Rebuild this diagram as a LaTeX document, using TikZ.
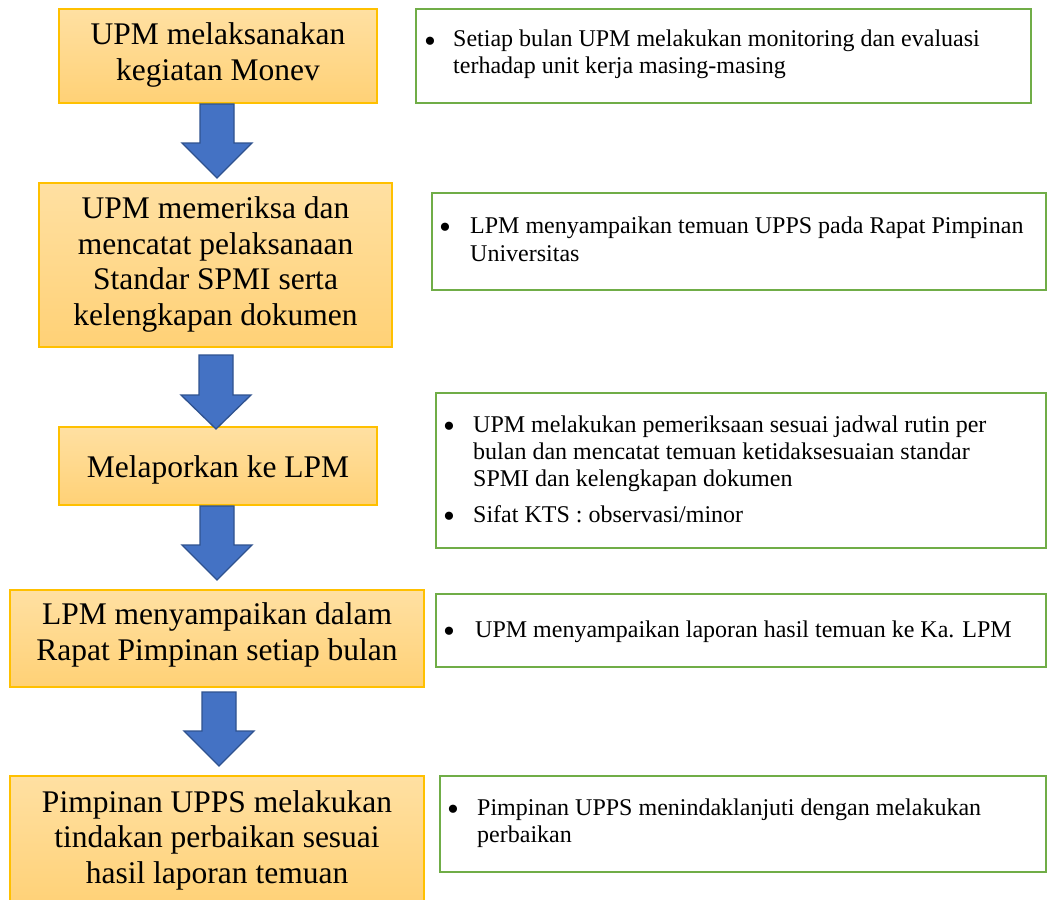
\documentclass[tikz,border=0pt]{standalone}
\usepackage{fontspec}
\setmainfont{Liberation Serif}
\definecolor{goldline}{HTML}{FFC000}
\definecolor{otop}{HTML}{FFE0A2}
\definecolor{obot}{HTML}{FFD176}
\definecolor{ablue}{HTML}{4472C4}
\definecolor{ablueline}{HTML}{2F528F}
\definecolor{ggreen}{HTML}{70AD47}
\newcommand\blkarrow[4]{%
  \draw[barrow] ({#1-17},#2) -- ({#1+17},#2) -- ({#1+17},#3) -- ({#1+35},#3) -- (#1,#4) -- ({#1-35},#3) -- ({#1-17},#3) -- cycle;}
\begin{document}
\begin{tikzpicture}[x=1pt,y=-1pt,
  obox/.style={draw=goldline, line width=1.2pt, top color=otop, bottom color=obot, inner sep=0pt},
  gbox/.style={draw=ggreen, line width=2.4pt, fill=white, inner sep=0pt},
  otext/.style={font=\fontsize{31.5}{35.5}\selectfont, align=center, inner sep=0pt, anchor=base},
  gtext/.style={font=\fontsize{24}{27}\selectfont, align=left, inner sep=0pt, anchor=base west},
  gbul/.style={font=\fontsize{34}{34}\selectfont, inner sep=0pt, anchor=center},
  barrow/.style={fill=ablue, draw=ablueline, line width=1.3pt, line join=miter}]
\useasboundingbox (0,0) rectangle (1048,899);
\clip (0,0) rectangle (1048,899);
\fill[white] (0,0) rectangle (1048,899);
% orange boxes
\node[obox, minimum width=318pt, minimum height=94pt] (b1) at (218,56) {};
\node[obox, minimum width=353pt, minimum height=164pt] (b2) at (215.5,265) {};
\node[obox, minimum width=318pt, minimum height=78pt] (b3) at (218,466) {};
\node[obox, minimum width=414pt, minimum height=97pt] (b4) at (217,638.5) {};
\node[obox, minimum width=414pt, minimum height=132pt] (b5) at (217,842) {};
% (multi-line nodes: base = baseline of the last line)
\node[otext] (t1) at (218,80) {UPM melaksanakan\\kegiatan Monev};
\node[otext] (t2) at (215.5,325) {UPM memeriksa dan\\mencatat pelaksanaan\\Standar SPMI serta\\kelengkapan dokumen};
\node[otext] (t3) at (218,477) {Melaporkan ke LPM};
\node[otext] (t4) at (217,660) {LPM menyampaikan dalam\\Rapat Pimpinan setiap bulan};
\node[otext] (t5) at (217,883) {Pimpinan UPPS melakukan\\tindakan perbaikan sesuai\\hasil laporan temuan};
% arrows
\blkarrow{217}{104}{143}{178}
\blkarrow{216}{355}{395}{429}
\blkarrow{217}{506}{545}{580}
\blkarrow{219}{692}{731}{766}
% green boxes
\node[gbox, minimum width=615pt, minimum height=94pt] (g1) at (723.5,56) {};
\node[gbox, minimum width=614pt, minimum height=97pt] (g2) at (739,241.5) {};
\node[gbox, minimum width=610pt, minimum height=155pt] (g3) at (741,470.5) {};
\node[gbox, minimum width=610pt, minimum height=73pt] (g4) at (741,630.5) {};
\node[gbox, minimum width=606pt, minimum height=96pt] (g5) at (743,824) {};
\node[gbul] (p1) at (430,45) {•};
\node[gtext, font=\fontsize{24}{26}\selectfont] (s1) at (453,73) {Setiap bulan UPM melakukan monitoring dan evaluasi\\terhadap unit kerja masing-masing};
\node[gbul] (p2) at (445,231) {•};
\node[gtext, font=\fontsize{24}{28.5}\selectfont] (s2) at (470,261.5) {LPM menyampaikan temuan UPPS pada Rapat Pimpinan\\Universitas};
\node[gbul] (p3) at (449,430) {•};
\node[gtext] (s3) at (473,486) {UPM melakukan pemeriksaan sesuai jadwal rutin per\\bulan dan mencatat temuan ketidaksesuaian standar\\SPMI dan kelengkapan dokumen};
\node[gbul] (p4) at (449,520) {•};
\node[gtext] (s4) at (473,522) {Sifat KTS : observasi/minor};
\node[gbul] (p5) at (449,635) {•};
\node[gtext] (s5) at (475,637) {UPM menyampaikan laporan hasil temuan ke Ka. LPM};
\node[gbul] (p6) at (453,813) {•};
\node[gtext] (s6) at (477,842) {Pimpinan UPPS menindaklanjuti dengan melakukan\\perbaikan};
\end{tikzpicture}
\end{document}
